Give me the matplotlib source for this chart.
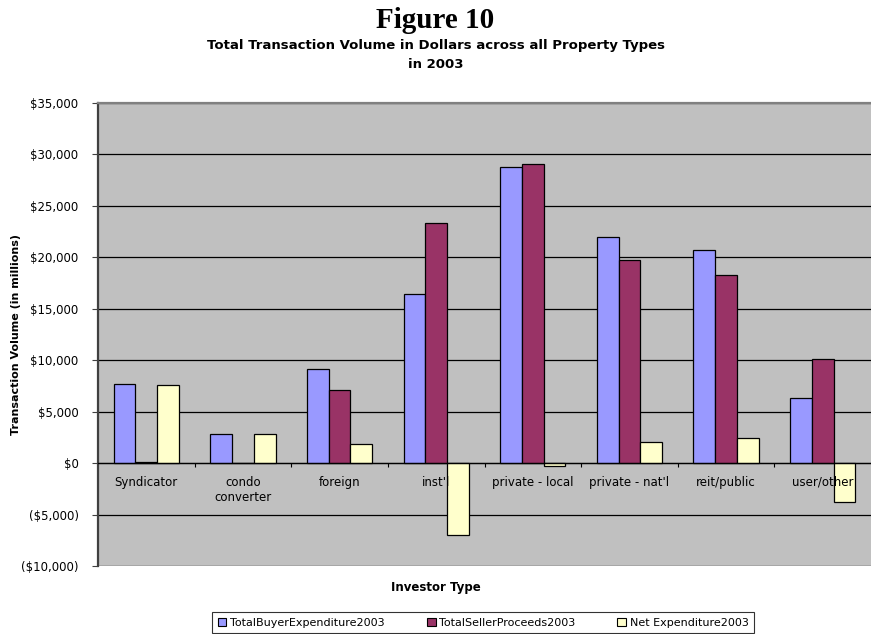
import numpy as np
import matplotlib.pyplot as plt
from matplotlib.ticker import FuncFormatter, FixedLocator

# ===== DATA ($ millions) =====
categories = ["Syndicator", "condo\nconverter", "foreign", "inst'l",
              "private - local", "private - nat'l", "reit/public", "user/other"]
buyer_2003 = [7700, 2850, 9100, 16400, 28750, 21950, 20750, 6300]
seller_2003 = [120, 0, 7150, 23300, 29050, 19750, 18300, 10100]
net_2003 = [7600, 2850, 1850, -7000, -300, 2100, 2400, -3800]
series_names = ["TotalBuyerExpenditure2003", "TotalSellerProceeds2003", "Net Expenditure2003"]

# ===== STYLE =====
COLORS = ["#9999FF", "#993366", "#FFFFCC"]
PLOT_BG = "#C0C0C0"
BAR_W = 0.225
W, H = 871, 634


def money(v, pos=None):
    if v < 0:
        return "(${:,.0f})".format(-v)
    return "${:,.0f}".format(v)


fig = plt.figure(figsize=(W / 100, H / 100), dpi=100)
ax = fig.add_axes([98 / W, 1 - 566 / H, 1 - 98 / W, (566 - 103) / H])
ax.set_facecolor(PLOT_BG)

x = np.arange(len(categories))
for i, (vals, col, name) in enumerate(zip([buyer_2003, seller_2003, net_2003], COLORS, series_names)):
    ax.bar(x + (i - 1) * BAR_W, vals, BAR_W, color=col, edgecolor="black",
           linewidth=0.9, label=name, zorder=3)

ax.set_xlim(-0.5, len(categories) - 0.5)
ax.set_ylim(-10000, 35000)
ax.set_yticks(np.arange(-10000, 35001, 5000))
ax.yaxis.set_major_formatter(FuncFormatter(money))
ax.grid(axis="y", color="black", linewidth=0.9, zorder=1)
ax.tick_params(axis="y", labelsize=8.5, length=4, width=0.8, color="#404040", pad=10)

# x axis sits on the $0 line; ticks at category boundaries, labels at centres
ax.spines["bottom"].set_position(("data", 0))
ax.spines["bottom"].set_color("black")
ax.spines["bottom"].set_linewidth(0.9)
ax.spines["bottom"].set_zorder(4)
ax.xaxis.set_major_locator(FixedLocator(np.arange(0.5, len(categories) - 1, 1.0)))
ax.xaxis.set_major_formatter(FuncFormatter(lambda v, p: ""))
ax.xaxis.set_minor_locator(FixedLocator(x))
ax.set_xticklabels(categories, minor=True)
ax.tick_params(axis="x", which="major", length=3, width=0.8, direction="out")
ax.tick_params(axis="x", which="minor", length=0, labelsize=8.5, pad=9)
ax.xaxis.set_zorder(5)  # category labels sit on top of the negative bars

ax.spines["left"].set_color("#404040")
ax.spines["left"].set_linewidth(1.6)
ax.spines["top"].set_color("#808080")
ax.spines["top"].set_linewidth(1.6)
ax.spines["right"].set_visible(False)

ax.set_ylabel("Transaction Volume (in millions)", fontsize=8, fontweight="bold")
ax.yaxis.set_label_coords(-0.1, 0.5)

fig.text(0.5, 1 - 588 / H, "Investor Type", ha="center", va="center",
         fontsize=8.5, fontweight="bold")

fig.text(0.5, 1 - 20 / H, "Figure 10", ha="center", va="center",
         fontsize=21, fontweight="bold", family="Liberation Serif")
fig.text(0.5, 1 - 46 / H, "Total Transaction Volume in Dollars across all Property Types",
         ha="center", va="center", fontsize=9.5, fontweight="bold")
fig.text(0.5, 1 - 64 / H, "in 2003",
         ha="center", va="center", fontsize=9.5, fontweight="bold")

leg_top = 1 - 612 / H
leg = fig.legend(loc="upper center", bbox_to_anchor=(483 / W, leg_top),
                 ncol=3, fontsize=8, frameon=True, fancybox=False,
                 handlelength=0.8, handleheight=0.8, handletextpad=0.3, borderaxespad=0,
                 borderpad=0.5, columnspacing=3.8)
leg.get_frame().set_edgecolor("black")
leg.get_frame().set_linewidth(0.8)
for h in leg.legend_handles:
    h.set_linewidth(0.8)

fig.savefig("out.png", dpi=100)
